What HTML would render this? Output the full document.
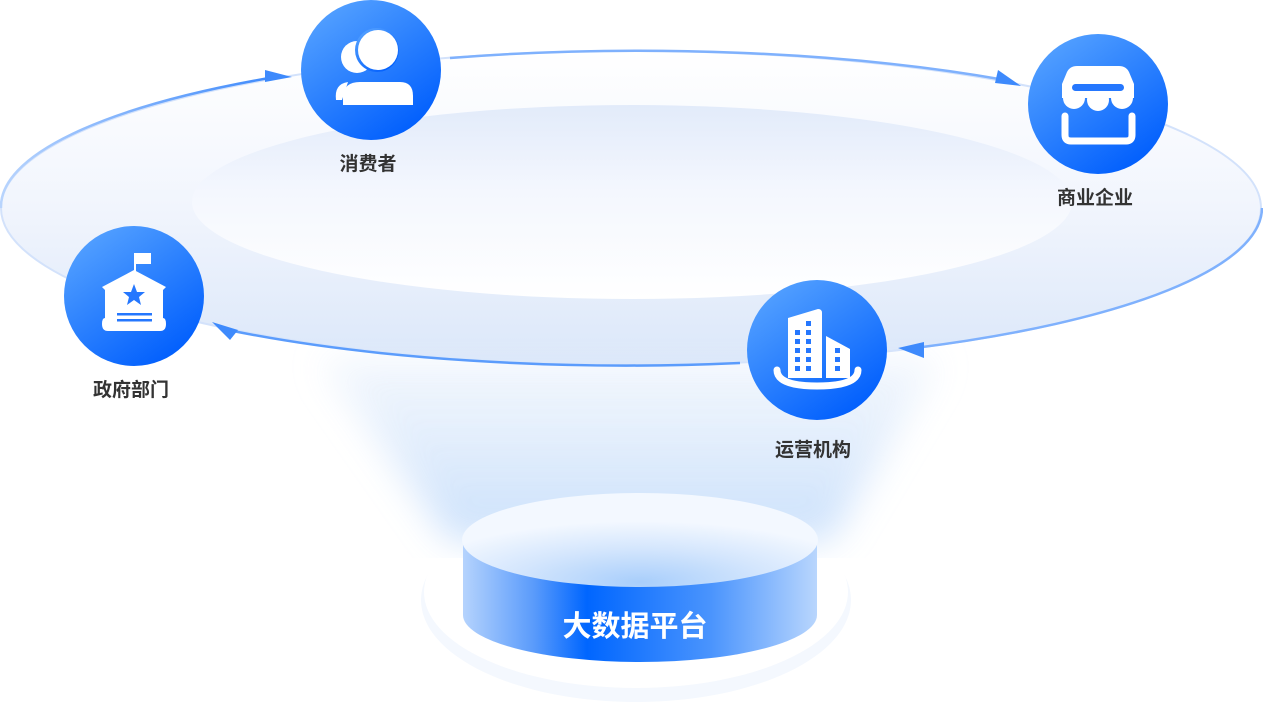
<!DOCTYPE html>
<html><head><meta charset="utf-8"><style>
html,body{margin:0;padding:0;background:#fff;}
body{width:1263px;height:705px;overflow:hidden;position:relative;font-family:"Liberation Sans","Noto Sans CJK SC",sans-serif;}
.lbl{position:absolute;font-size:19px;font-weight:bold;color:#333;transform:translateX(-50%);white-space:nowrap;}
</style></head><body>
<svg width="1263" height="705" viewBox="0 0 1263 705" style="position:absolute;left:0;top:0">
<defs>
<linearGradient id="outer" x1="0" y1="0" x2="0" y2="1">
<stop offset="0" stop-color="#ffffff"/><stop offset="0.5" stop-color="#f1f5fd"/><stop offset="1" stop-color="#dbe7f9"/>
</linearGradient>
<linearGradient id="inner" x1="0" y1="0" x2="0" y2="1">
<stop offset="0" stop-color="#e2ebfa"/><stop offset="0.45" stop-color="#f4f7fe"/><stop offset="1" stop-color="#ffffff"/>
</linearGradient>
<linearGradient id="funnel" x1="0" y1="0" x2="0" y2="1">
<stop offset="0" stop-color="#e3edfb" stop-opacity="0.6"/><stop offset="1" stop-color="#bcd8fb"/>
</linearGradient>
<radialGradient id="ftop" cx="0.5" cy="0.95" r="0.65">
<stop offset="0" stop-color="#a8cefb"/><stop offset="0.55" stop-color="#d4e6fd"/><stop offset="1" stop-color="#f3f8ff"/>
</radialGradient>
<linearGradient id="band" x1="0" y1="0" x2="1" y2="0">
<stop offset="0" stop-color="#b5d3fd"/><stop offset="0.2" stop-color="#5a9bfb"/><stop offset="0.35" stop-color="#0066ff"/><stop offset="0.7" stop-color="#4a94fd"/><stop offset="1" stop-color="#b9d6fd"/>
</linearGradient>
<linearGradient id="circ" x1="0.2" y1="0.1" x2="0.8" y2="0.95">
<stop offset="0" stop-color="#4f9dff"/><stop offset="1" stop-color="#005efd"/>
</linearGradient>
<linearGradient id="arc" x1="0" y1="0" x2="1" y2="0">
<stop offset="0" stop-color="#b8d4fd"/><stop offset="1" stop-color="#3e8afc"/>
</linearGradient>
<filter id="blur"><feGaussianBlur stdDeviation="18"/></filter>
</defs>
<ellipse cx="636" cy="600" rx="215" ry="102" fill="#f4f8fe"/>
<ellipse cx="636" cy="592" rx="212" ry="96" fill="#fff"/>
<ellipse cx="631" cy="208" rx="630" ry="157" fill="url(#outer)" stroke="#d3e2fb" stroke-width="2"/>
<ellipse cx="632" cy="202" rx="440" ry="97" fill="url(#inner)"/>
<path d="M320,360 L940,360 L830,540 L450,540 Z" fill="url(#funnel)" filter="url(#blur)" opacity="0.8"/>
<path d="M463,543 L463,615 A177,47 0 0 0 817,615 L817,543 Z" fill="url(#band)"/>
<ellipse cx="640" cy="540" rx="178" ry="47" fill="url(#ftop)"/>
<path d="M1,208 A630,157 0 0 1 275,77" fill="none" stroke="url(#arc)" stroke-width="2.5"/>
<polygon points="265,70 292,77 265,82" fill="#3e8afc"/>
<path d="M450,58 A630,157 0 0 1 1005,80" fill="none" stroke="#7fb1fd" stroke-width="2.5"/>
<polygon points="998,70 1021,86 995,83" fill="#3e8afc"/>
<path d="M1262,208 A630,157 0 0 1 915,348" fill="none" stroke="#7fb1fd" stroke-width="2.5"/>
<polygon points="924,342 898,348 924,358" fill="#3e8afc"/>
<path d="M740,363 A630,157 0 0 1 228,330" fill="none" stroke="#5b9cfc" stroke-width="2.5"/>
<polygon points="212,322 238,330 230,340" fill="#3e8afc"/>
<circle cx="371" cy="70" r="70" fill="url(#circ)"/>
<circle cx="1098" cy="104" r="70" fill="url(#circ)"/>
<circle cx="134" cy="296" r="70" fill="url(#circ)"/>
<circle cx="817" cy="350" r="70" fill="url(#circ)"/>
<!-- consumer icon -->
<circle cx="357" cy="57" r="16" fill="#fff"/>
<circle cx="377" cy="50" r="22" fill="url(#circ)"/>
<circle cx="378" cy="50" r="20" fill="#fff"/>
<path d="M336,100 Q334,84 348,82 L342,100 Z" fill="#fff"/>
<path d="M343,105 L343,96 Q344,82 360,82 L400,82 Q413,82 413,96 L413,105 Z" fill="#fff"/>
<!-- shop icon -->
<path d="M1062,98 L1062,84 L1067,72 Q1070,66 1077,66 L1119,66 Q1126,66 1129,72 L1134,84 L1134,98 Z" fill="#fff"/>
<circle cx="1074" cy="98" r="11" fill="#fff"/>
<circle cx="1098" cy="100" r="11" fill="#fff"/>
<circle cx="1122" cy="98" r="11" fill="#fff"/>
<rect x="1072" y="84" width="52" height="7" rx="3.5" fill="#2577fe"/>
<path d="M1065,116 L1065,135 Q1065,141 1071,141 L1126,141 Q1132,141 1132,135 L1132,116" fill="none" stroke="#fff" stroke-width="7" stroke-linecap="round"/>
<!-- gov icon -->
<rect x="134" y="253" width="2" height="20" fill="#fff"/>
<path d="M136,253 L151,253 L151,264 L136,264 Z" fill="#fff"/>
<path d="M102,287 L134,270 L166,287 L163,290 L163,318 Q166,318 166,324 Q166,331 160,331 L108,331 Q102,331 102,324 Q102,318 105,318 L105,290 Z" fill="#fff"/>
<polygon points="134,284 137,292 145,292 139,297 141,305 134,300 127,305 129,297 123,292 131,292" fill="#2577fe"/>
<rect x="117" y="313" width="35" height="2.5" fill="#2577fe"/>
<rect x="117" y="319" width="35" height="2.5" fill="#2577fe"/>
<!-- building icon -->
<path d="M788,318 L818,309 Q822,309 822,313 L822,378 L788,378 Z" fill="#fff"/>
<path d="M826,336 L850,349 L850,378 L826,378 Z" fill="#fff"/>
<g fill="#2577fe">
<rect x="795" y="330" width="5" height="5"/><rect x="806" y="321" width="5" height="5"/><rect x="806" y="330" width="5" height="5"/>
<rect x="795" y="339" width="5" height="5"/><rect x="806" y="339" width="5" height="5"/>
<rect x="795" y="348" width="5" height="5"/><rect x="806" y="348" width="5" height="5"/>
<rect x="795" y="357" width="5" height="5"/><rect x="806" y="357" width="5" height="5"/>
<rect x="795" y="366" width="5" height="5"/><rect x="806" y="366" width="5" height="5"/>
<rect x="835" y="348" width="5" height="5"/><rect x="835" y="357" width="5" height="5"/><rect x="835" y="366" width="5" height="5"/>
</g>
<path d="M777,370 Q777,386 817,386 Q858,386 858,370" fill="none" stroke="#fff" stroke-width="7" stroke-linecap="round"/>
<text x="635" y="636" text-anchor="middle" font-size="29" font-weight="bold" fill="#fff" font-family="Liberation Sans, Noto Sans CJK SC, sans-serif">大数据平台</text>
</svg>
<div class="lbl" style="left:368px;top:149px">消费者</div>
<div class="lbl" style="left:1095px;top:183px">商业企业</div>
<div class="lbl" style="left:131px;top:375px">政府部门</div>
<div class="lbl" style="left:813px;top:435px">运营机构</div>
</body></html>
